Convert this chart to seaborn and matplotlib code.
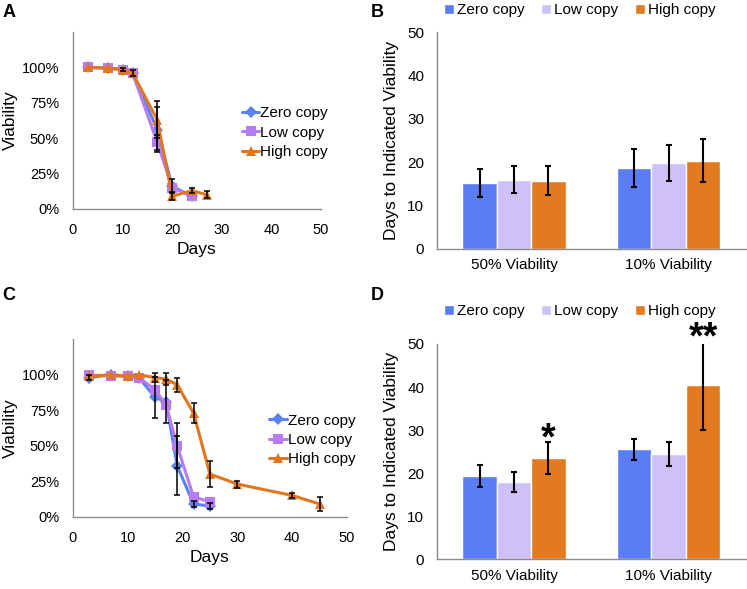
import numpy as np
import pandas as pd
import matplotlib
matplotlib.use("Agg")
import matplotlib.pyplot as plt
import seaborn as sns

sns.set_theme(style="white")
plt.rcParams["font.family"] = ["Liberation Sans", "DejaVu Sans"]
plt.rcParams["text.color"] = "black"
plt.rcParams["axes.labelcolor"] = "black"

strains = ["Zero copy", "Low copy", "High copy"]
line_colors = ["#5b83ef", "#b77cf2", "#e2761f"]
bar_colors = ["#5a7cf5", "#cdc1f8", "#e27b20"]
markers = ["D", "s", "^"]

# ── Panel A: survival curves, experiment 1 ───────────────────────────
a_days = {
    "Zero copy": [3, 7, 10, 12, 17, 20, 24],
    "Low copy": [3, 7, 10, 12, 17, 20, 24],
    "High copy": [3, 7, 10, 12, 17, 20, 24, 27],
}
a_viab = {
    "Zero copy": [100, 99.5, 98.5, 96, 56, 16, 9],
    "Low copy": [100, 99.5, 98.5, 96, 47, 15, 9],
    "High copy": [100, 99.5, 98.5, 96, 63, 9, 13, 10],
}
a_err = {
    "Zero copy": [0, 0, 0, 0, 16, 5, 0],
    "Low copy": [0, 0, 0, 0, 5, 0, 0],
    "High copy": [0, 0, 1, 2, 13, 3, 2, 2.5],
}

# ── Panel C: survival curves, experiment 2 ───────────────────────────
c_days = {
    "Zero copy": [3, 7, 10, 12, 15, 17, 19, 22, 25],
    "Low copy": [3, 7, 10, 12, 15, 17, 19, 22, 25],
    "High copy": [3, 7, 10, 12, 15, 17, 19, 22, 25, 30, 40, 45],
}
c_viab = {
    "Zero copy": [98, 100, 99, 98, 84, 81, 36, 9, 7.5],
    "Low copy": [100, 99, 99, 98, 89.5, 78.5, 50, 14, 10.5],
    "High copy": [99, 100, 99, 100, 98, 97, 93, 73, 30, 23, 15, 9],
}
c_err = {
    "Zero copy": [1.5, 0, 0, 0, 14.5, 15, 21, 2, 2],
    "Low copy": [0, 0, 0, 0, 0, 0, 16, 0, 0],
    "High copy": [0, 0, 0, 0, 3, 4, 5, 7, 9, 2.5, 2, 5],
}

# ── Panels B / D: days to indicated viability ─────────────────────────
thresholds = ["50% Viability", "10% Viability"]
b_days = {"Zero copy": [15.2, 18.7], "Low copy": [15.9, 19.8], "High copy": [15.7, 20.3]}
b_err = {"Zero copy": [3.3, 4.4], "Low copy": [3.1, 4.2], "High copy": [3.4, 5.0]}
d_days = {"Zero copy": [19.4, 25.5], "Low copy": [18.0, 24.4], "High copy": [23.5, 40.4]}
d_err = {"Zero copy": [2.6, 2.4], "Low copy": [2.3, 2.8], "High copy": [3.7, 10.3]}
d_stars = ["*", "**"]

SPINE = "#8c8c8c"


def style_axes(ax, labelsize, pad=5):
    sns.despine(ax=ax)
    for s in ["left", "bottom"]:
        ax.spines[s].set_color(SPINE)
        ax.spines[s].set_linewidth(1.0)
    ax.tick_params(axis="both", colors=SPINE, labelcolor="black",
                   direction="out", length=4, width=1.0, labelsize=labelsize, pad=pad)


def survival_panel(ax, days, viab, err, legend_anchor):
    rows = []
    for s in strains:
        for d, v in zip(days[s], viab[s]):
            rows.append({"day": d, "viability": v, "strain": s})
    df = pd.DataFrame(rows)
    sns.lineplot(data=df, x="day", y="viability", hue="strain", style="strain",
                 hue_order=strains, style_order=strains, palette=line_colors,
                 markers=dict(zip(strains, markers)), dashes=False,
                 linewidth=2.2, markersize=6.5, markeredgewidth=0,
                 errorbar=None, ax=ax)
    for s in strains:
        x = np.array(days[s]); y = np.array(viab[s]); e = np.array(err[s])
        m = e > 0
        ax.errorbar(x[m], y[m], yerr=e[m], fmt="none", ecolor="black",
                    elinewidth=1.1, capsize=2.2, capthick=1.1, zorder=6)
    handles, labels = ax.get_legend_handles_labels()
    ax.get_legend().remove()
    ax.legend(handles, labels, loc="center left", bbox_to_anchor=legend_anchor,
              bbox_transform=fig.transFigure, frameon=False, fontsize=11,
              handlelength=1.15, handletextpad=0.05, labelspacing=0.35,
              borderpad=0, borderaxespad=0)
    ax.set_xlim(0, 50)
    ax.set_ylim(0, 125)
    ax.set_xticks(range(0, 51, 10))
    ax.set_yticks(range(0, 126, 25))
    ax.set_yticklabels([f"{v}%" if v <= 100 else "" for v in range(0, 126, 25)])
    ax.set_xlabel("Days", fontsize=12.5, labelpad=4)
    ax.set_ylabel("Viability", fontsize=12.5, labelpad=3)
    style_axes(ax, 10.5, pad=6)


def bar_panel(ax, vals, errs, legend_anchor, stars=None):
    rows = []
    for s in strains:
        for t, v in zip(thresholds, vals[s]):
            rows.append({"threshold": t, "days": v, "strain": s})
    df = pd.DataFrame(rows)
    sns.barplot(data=df, x="threshold", y="days", hue="strain",
                order=thresholds, hue_order=strains, palette=bar_colors,
                saturation=1, width=0.667, errorbar=None, ax=ax)
    for s, cont in zip(strains, ax.containers):
        for bar, e in zip(cont, errs[s]):
            ax.errorbar(bar.get_x() + bar.get_width() / 2, bar.get_height(),
                        yerr=e, fmt="none", ecolor="black", elinewidth=1.5,
                        capsize=2.5, capthick=1.5, zorder=5)
    if stars:
        hi = ax.containers[strains.index("High copy")]
        for bar, e, st in zip(hi, errs["High copy"], stars):
            ax.text(bar.get_x() + bar.get_width() / 2, bar.get_height() + e - 3.6,
                    st, ha="center", va="bottom", fontsize=27, fontweight="bold",
                    color="black")
    handles, labels = ax.get_legend_handles_labels()
    ax.get_legend().remove()
    ax.legend(handles, labels, loc="center", bbox_to_anchor=legend_anchor,
              bbox_transform=fig.transFigure, ncol=3, frameon=False, fontsize=11,
              handlelength=0.65, handleheight=0.65, handletextpad=0.2,
              columnspacing=1.1, borderpad=0, borderaxespad=0)
    ax.set_xlim(-0.5, 1.5)
    ax.set_ylim(0, 50)
    ax.set_yticks(range(0, 51, 10))
    ax.set_xlabel("")
    ax.set_ylabel("Days to Indicated Viability", fontsize=12.5, labelpad=6)
    style_axes(ax, 11)
    ax.set_xticks([-0.5, 0.5, 1.5], minor=True)
    ax.tick_params(axis="x", which="major", length=0, pad=7)
    ax.tick_params(axis="x", which="minor", length=5, color=SPINE, width=1.0)


fig = plt.figure(figsize=(7.47, 5.89), dpi=100)
axA = fig.add_axes([0.0977, 0.6452, 0.332, 0.3005])
axC = fig.add_axes([0.0977, 0.1227, 0.3668, 0.3013])
axB = fig.add_axes([0.5846, 0.5778, 0.414, 0.3674])
axD = fig.add_axes([0.5846, 0.0504, 0.414, 0.3656])

survival_panel(axA, a_days, a_viab, a_err, (0.3236, 0.7745))
survival_panel(axC, c_days, c_viab, c_err, (0.3605, 0.253))
bar_panel(axB, b_days, b_err, (0.7764, 0.983))
bar_panel(axD, d_days, d_err, (0.7764, 0.472), stars=d_stars)

for lbl, x, y in [("A", 0.003, 0.993), ("B", 0.496, 0.993),
                  ("C", 0.003, 0.513), ("D", 0.496, 0.513)]:
    fig.text(x, y, lbl, fontsize=13, fontweight="bold", va="top", ha="left",
             color="black")

fig.savefig("out.png", dpi=100)
